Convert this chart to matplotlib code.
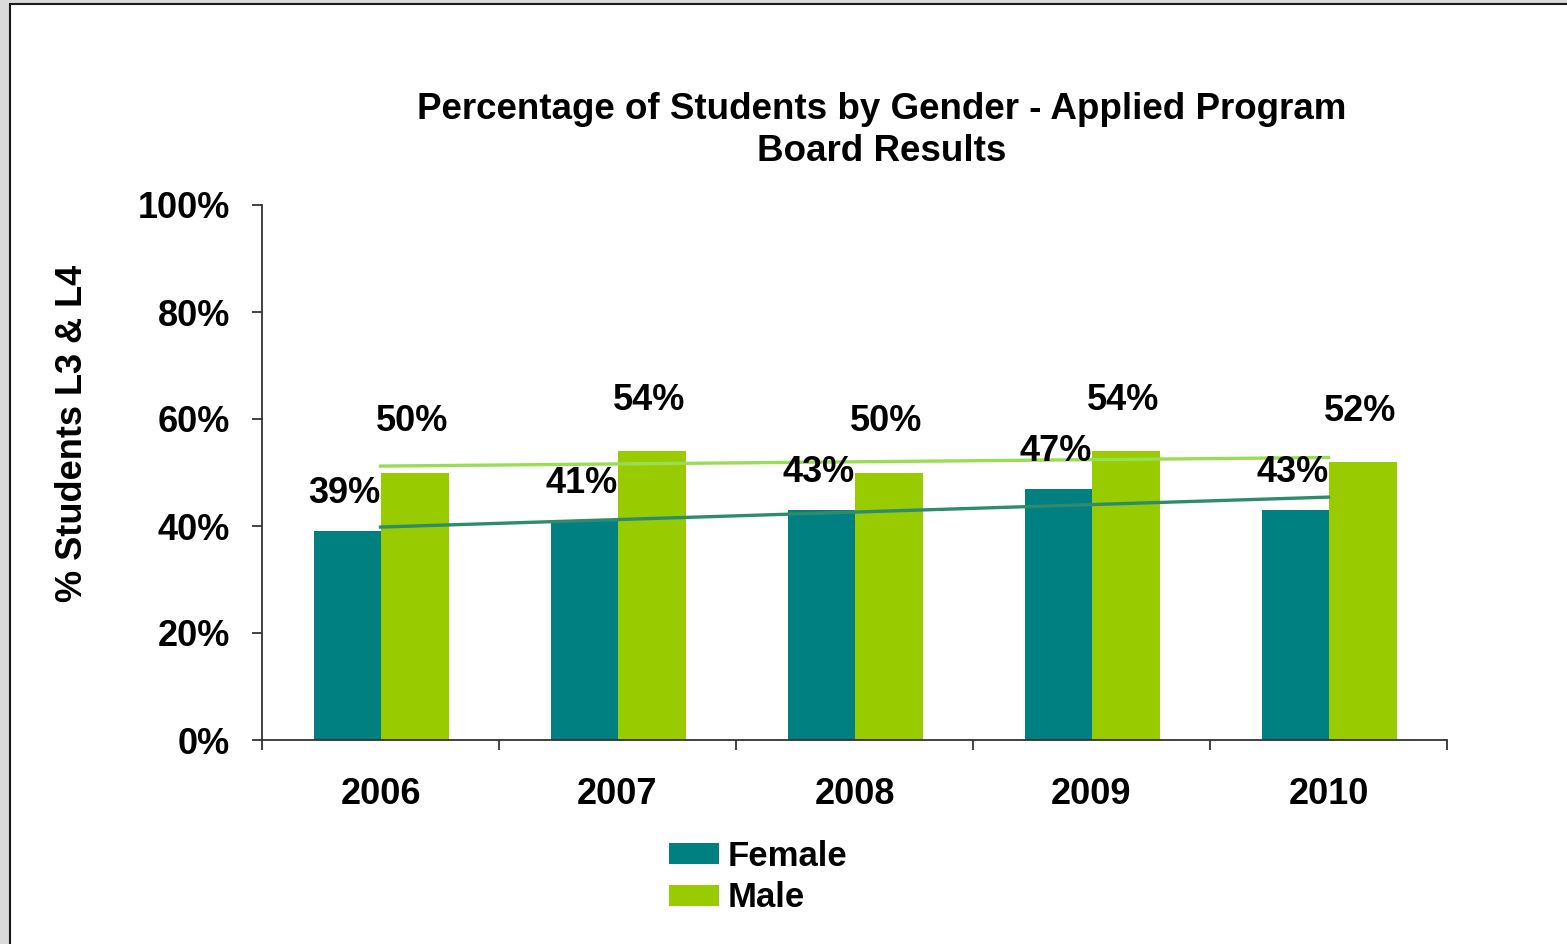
import numpy as np
import matplotlib.pyplot as plt
from matplotlib.patches import Rectangle, Patch

years = ["2006", "2007", "2008", "2009", "2010"]
female = [39, 41, 43, 47, 43]
male = [50, 54, 50, 54, 52]

FEMALE_C = "#008080"
MALE_C = "#99CC00"
FEMALE_TREND = "#2E8B6E"
MALE_TREND = "#99DD55"

plt.rcParams["font.family"] = ["Liberation Sans", "DejaVu Sans"]
plt.rcParams["font.weight"] = "bold"

dpi = 100
fig = plt.figure(figsize=(1567 / dpi, 944 / dpi), dpi=dpi)
fig.patch.set_facecolor("#dadada")

# white slide panel with dark border on left/top
fig.patches.append(Rectangle((10 / 1567, -0.05), 1.2, (944 - 4) / 944 + 0.05,
                             transform=fig.transFigure, facecolor="white",
                             edgecolor="#1a1a1a", linewidth=1.5, zorder=-5))

ax = fig.add_axes([262 / 1567, (944 - 740) / 944, (1447 - 262) / 1567, (740 - 205) / 944])
ax.set_facecolor("none")
ax.set_zorder(2)

x = np.arange(len(years))
w = 0.283
ax.bar(x - w / 2 + 0.004, female, width=w, color=FEMALE_C, zorder=2)
ax.bar(x + w / 2 + 0.004, male, width=w, color=MALE_C, zorder=2)

# linear trendlines
for vals, col in [(female, FEMALE_TREND), (male, MALE_TREND)]:
    k, b = np.polyfit(x, vals, 1)
    ax.plot(x, k * x + b, color=col, linewidth=2.4, zorder=3)

# data labels
for xi, f, m in zip(x, female, male):
    ax.annotate(f"{f}%", (xi - w / 2 - 0.01, f), xytext=(0, 27), textcoords="offset points",
                ha="center", va="center", fontsize=26, fontweight="bold", zorder=4)
    ax.annotate(f"{m}%", (xi + w / 2 - 0.01, m), xytext=(0, 36.5), textcoords="offset points",
                ha="center", va="center", fontsize=26, fontweight="bold", zorder=4)

ax.set_xlim(-0.5, len(years) - 0.5)
ax.set_ylim(0, 100)
ax.set_yticks([0, 20, 40, 60, 80, 100])
ax.set_yticklabels([f"{v}%" for v in [0, 20, 40, 60, 80, 100]])

ax.set_xticks(np.arange(-0.5, len(years)), labels=[])
ax.set_xticks(x, labels=years, minor=True)
ax.tick_params(axis="x", which="major", length=7, width=1.3, color="#333333", direction="out")
ax.tick_params(axis="x", which="minor", length=0, pad=27, labelsize=26)
ax.tick_params(axis="y", length=7, width=1.3, color="#333333", pad=16, labelsize=26)

for s in ["top", "right"]:
    ax.spines[s].set_visible(False)
for s in ["left", "bottom"]:
    ax.spines[s].set_color("#333333")
    ax.spines[s].set_linewidth(1.3)

ax.set_ylabel("% Students L3 & L4", fontsize=26, fontweight="bold")
ax.yaxis.set_label_coords((90 - 262) / 1185, (740 - 433) / 535)

fig.text(882 / 1567, 1 - 130.5 / 944, "Percentage of Students by Gender - Applied Program\nBoard Results",
         ha="center", va="center", fontsize=26.5, fontweight="bold", linespacing=1.25)

handles = [Patch(facecolor=FEMALE_C, label="Female"), Patch(facecolor=MALE_C, label="Male")]
fig.legend(handles=handles, loc="center left", bbox_to_anchor=(655 / 1567, 1 - 877 / 944),
           frameon=False, fontsize=25, handlelength=1.45, handleheight=0.55,
           handletextpad=0.25, labelspacing=0.25, borderaxespad=0)

fig.savefig("out.png", dpi=dpi, facecolor=fig.get_facecolor())
